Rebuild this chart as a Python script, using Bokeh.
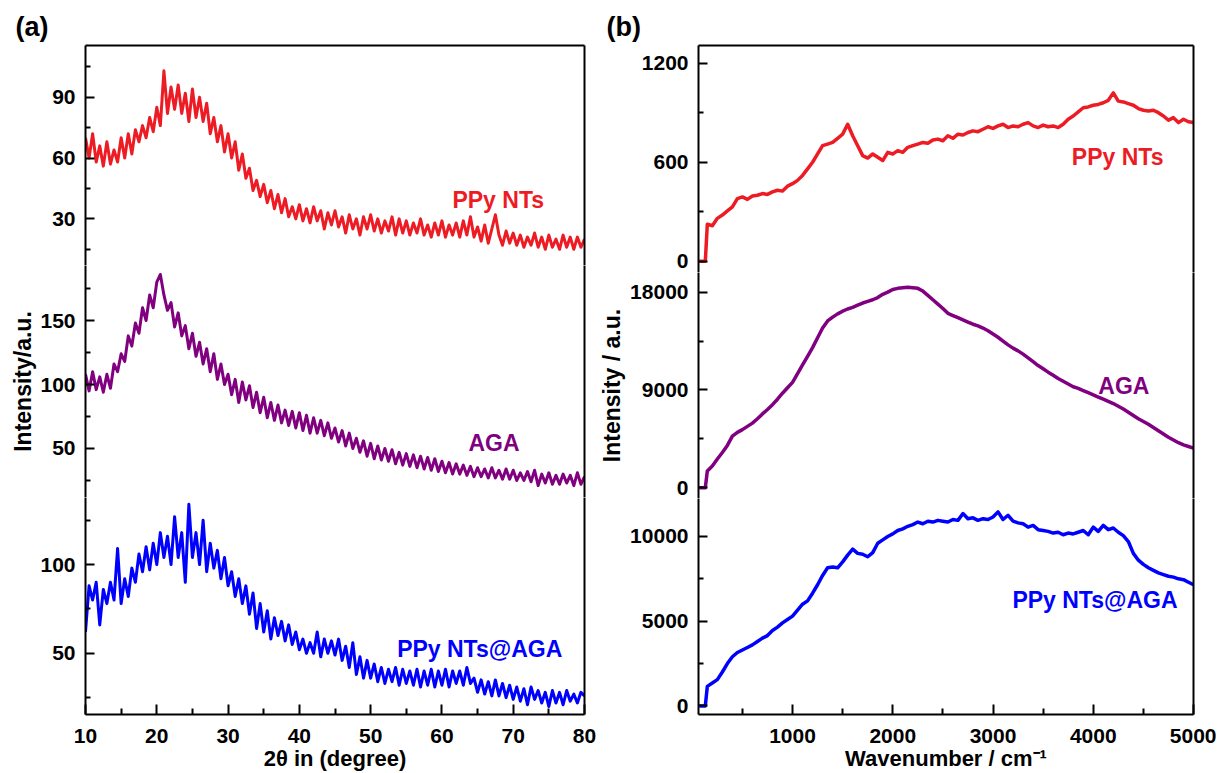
from bokeh.plotting import figure
from bokeh.models import Range1d, LinearAxis, FixedTicker, Label, Title
from bokeh.layouts import row, column
from bokeh.embed import file_html
from bokeh.resources import INLINE

# ---------------- (a) XRD data: 2theta grid 10..80 step 0.5 ----------------
two_theta = [10 + 0.5 * i for i in range(141)]

xrd_ppy_nts = [
    70, 60, 72, 58, 66, 56, 68, 57, 64, 58,
    70, 60, 72, 62, 74, 68, 76, 70, 80, 73,
    85, 76, 103, 82, 95, 84, 96, 82, 92, 78,
    94, 80, 90, 78, 87, 72, 80, 68, 76, 63,
    72, 60, 68, 54, 62, 50, 55, 44, 49, 41,
    47, 38, 44, 35, 42, 33, 40, 31, 36, 30,
    37, 29, 35, 28, 36, 29, 34, 25, 33, 27,
    34, 26, 31, 23, 32, 25, 30, 22, 31, 25,
    32, 24, 30, 23, 29, 24, 31, 22, 30, 23,
    29, 22, 28, 23, 30, 22, 27, 21, 28, 22,
    29, 21, 27, 22, 28, 21, 29, 22, 31, 21,
    26, 19, 27, 18, 25, 32, 22, 17, 24, 18,
    23, 17, 22, 16, 21, 17, 23, 16, 21, 15,
    22, 16, 20, 15, 22, 16, 21, 15, 21, 16,
    20,
]

xrd_aga = [
    108, 95, 110, 96, 106, 94, 108, 97, 116, 110,
    124, 118, 138, 130, 148, 140, 160, 150, 170, 160,
    180, 186, 170, 158, 164, 145, 156, 138, 146, 128,
    140, 122, 133, 116, 128, 110, 124, 104, 116, 100,
    108, 92, 104, 86, 102, 88, 99, 82, 94, 78,
    90, 74, 86, 72, 84, 70, 80, 68, 79, 66,
    78, 64, 76, 62, 74, 62, 72, 60, 70, 58,
    66, 55, 64, 52, 62, 50, 58, 47, 56, 44,
    54, 42, 52, 41, 50, 40, 49, 38, 47, 37,
    46, 36, 45, 35, 44, 34, 43, 33, 42, 32,
    40, 31, 39, 30, 38, 30, 37, 29, 36, 28,
    35, 28, 34, 27, 35, 27, 33, 26, 34, 26,
    33, 25, 31, 25, 32, 24, 33, 21, 30, 23,
    31, 22, 29, 22, 30, 23, 29, 21, 31, 22,
    28,
]

xrd_ppy_nts_aga = [
    62, 88, 80, 90, 66, 86, 78, 90, 80, 109,
    78, 92, 82, 98, 90, 106, 96, 110, 97, 112,
    100, 118, 104, 116, 100, 127, 104, 118, 90, 134,
    104, 118, 100, 125, 96, 112, 98, 108, 92, 104,
    88, 96, 82, 92, 78, 88, 72, 84, 64, 78,
    62, 74, 58, 70, 60, 68, 57, 66, 55, 62,
    52, 58, 50, 56, 50, 62, 48, 58, 50, 57,
    49, 58, 46, 54, 42, 56, 38, 48, 36, 46,
    36, 44, 34, 42, 33, 41, 34, 42, 32, 41,
    33, 40, 32, 41, 31, 40, 32, 41, 31, 40,
    32, 41, 31, 40, 33, 40, 32, 42, 33, 36,
    28, 35, 27, 34, 26, 35, 26, 33, 25, 32,
    24, 31, 23, 30, 21, 31, 24, 29, 22, 28,
    20, 29, 22, 28, 21, 29, 23, 27, 22, 28,
    26,
]

# ---------------- (b) data: wavenumber grid ----------------
wavenumber = [70, 130] + list(range(150, 5001, 50))

raman_ppy_nts = [
    0, 0, 225, 215, 260, 280, 305, 330, 380, 390,
    375, 395, 400, 410, 405, 420, 430, 425, 455, 470,
    490, 520, 560, 600, 650, 700, 710, 720, 745, 770,
    830, 760, 700, 640, 625, 650, 630, 610, 660, 650,
    670, 660, 690, 700, 710, 720, 715, 735, 740, 730,
    760, 745, 770, 765, 780, 790, 785, 800, 815, 805,
    820, 830, 810, 820, 815, 830, 840, 820, 810, 825,
    815, 820, 810, 830, 860, 880, 905, 930, 935, 945,
    950, 960, 975, 1020, 970, 965, 955, 945, 925, 915,
    910, 915, 900, 880, 855, 870, 840, 860, 845, 840,
]

raman_aga = [
    0, 0, 1550, 2000, 2650, 3250, 3900, 4750, 5100, 5350,
    5650, 5950, 6350, 6800, 7200, 7650, 8150, 8700, 9200, 9700,
    10500, 11300, 12100, 12900, 13800, 14700, 15350, 15700, 16000, 16250,
    16450, 16600, 16800, 17000, 17150, 17300, 17500, 17800, 18000, 18250,
    18350, 18400, 18450, 18400, 18350, 18100, 17700, 17300, 16900, 16500,
    16050, 15850, 15650, 15450, 15250, 15050, 14900, 14700, 14450, 14150,
    13850, 13500, 13150, 12850, 12600, 12300, 11950, 11600, 11250, 10950,
    10640, 10350, 10050, 9800, 9550, 9300, 9150, 8950, 8750, 8550,
    8350, 8150, 7950, 7750, 7500, 7250, 6950, 6650, 6350, 6100,
    5850, 5550, 5250, 4950, 4650, 4400, 4150, 3950, 3800, 3650,
]

raman_ppy_nts_aga = [
    0, 0, 1150, 1350, 1550, 2000, 2500, 2900, 3150, 3300,
    3450, 3600, 3800, 4000, 4150, 4450, 4650, 4900, 5100, 5300,
    5650, 6000, 6200, 6650, 7150, 7700, 8150, 8200, 8150, 8500,
    8900, 9250, 9000, 8950, 8800, 9050, 9600, 9800, 10000, 10150,
    10350, 10450, 10600, 10700, 10850, 10750, 10900, 10850, 10950, 10900,
    10850, 11000, 10950, 11350, 11050, 11100, 10950, 11050, 11000, 11150,
    11450, 11000, 11250, 10900, 10800, 10750, 10550, 10650, 10400, 10350,
    10300, 10200, 10250, 10100, 10200, 10150, 10250, 10350, 10100, 10550,
    10300, 10650, 10400, 10500, 10250, 10050, 9700, 9000, 8600, 8350,
    8150, 8000, 7850, 7750, 7650, 7600, 7500, 7450, 7300, 7150,
]

# tick labels
xrd_x_ticks = [10, 20, 30, 40, 50, 60, 70, 80]
xrd_x_minor = [15, 25, 35, 45, 55, 65, 75]
xrd_y_ticks = [[30, 60, 90], [50, 100, 150], [50, 100]]
xrd_y_minor = [[15, 45, 75, 105], [25, 75, 125, 175], [25, 75, 125]]
wn_x_ticks = [1000, 2000, 3000, 4000, 5000]
wn_x_minor = [500, 1500, 2500, 3500, 4500]
wn_y_ticks = [[0, 600, 1200], [0, 9000, 18000], [0, 5000, 10000]]
wn_y_minor = [[300, 900], [4500, 13500], [2500, 7500]]

series_names = ["PPy NTs", "AGA", "PPy NTs@AGA"]

FONT = "Liberation Sans"
RED = "#ED1C24"
PURPLE = "#800080"
BLUE = "#0000FF"
COLORS = [RED, PURPLE, BLUE]


def style_axis(ax, tick_in, minor_in, standoff):
    ax.axis_line_width = 2
    ax.axis_line_color = "black"
    ax.major_tick_line_width = 2
    ax.minor_tick_line_width = 2
    ax.major_tick_line_color = "black"
    ax.minor_tick_line_color = "black"
    ax.major_tick_in = tick_in
    ax.major_tick_out = 0
    ax.minor_tick_in = minor_in
    ax.minor_tick_out = 0
    ax.major_label_standoff = standoff
    ax.major_label_text_font = FONT
    ax.major_label_text_font_style = "bold"
    ax.major_label_text_font_size = "21px"
    ax.major_label_text_color = "black"


def border_axis():
    ax = LinearAxis(ticker=FixedTicker(ticks=[], minor_ticks=[]))
    ax.axis_line_width = 2
    ax.axis_line_color = "black"
    ax.major_tick_line_color = None
    ax.minor_tick_line_color = None
    ax.major_tick_in = 0
    ax.major_tick_out = 0
    ax.minor_tick_in = 0
    ax.minor_tick_out = 0
    ax.major_label_standoff = 0
    ax.major_label_text_font_size = "0px"
    return ax


def subplot(width, height, xr, yr, yticks, yminor, mbl, mbr, mbt, mbb):
    p = figure(width=width, height=height, x_range=xr, y_range=Range1d(*yr),
               output_backend="svg", toolbar_location=None,
               x_axis_location=None, y_axis_location=None,
               min_border=0, min_border_left=mbl, min_border_right=mbr,
               min_border_top=mbt, min_border_bottom=mbb)
    p.outline_line_color = None
    p.xgrid.visible = False
    p.ygrid.visible = False
    p.background_fill_color = "white"
    p.border_fill_color = "white"
    yax = LinearAxis(ticker=FixedTicker(ticks=yticks, minor_ticks=yminor))
    style_axis(yax, 9, 5, 10)
    p.add_layout(yax, "left")
    p.add_layout(border_axis(), "right")
    return p, yax


def add_series_label(p, text, x, y, color):
    p.add_layout(Label(x=x, y=y, text=text, text_color=color, text_font=FONT,
                       text_font_style="bold", text_font_size="23px",
                       text_align="center", text_baseline="alphabetic"))


def build_panel(letter, letter_offset, width, mbl, mbr, heights, xr, yranges,
                yticks, yminor, xs, ys_list, lw, label_pos, ylabel, ylabel_standoff,
                xticks, xminor, xlabel):
    figs = []
    for i in range(3):
        mbt = 45 if i == 0 else 0
        mbb = 57 if i == 2 else 0
        p, yax = subplot(width, heights[i], xr, yranges[i], yticks[i], yminor[i],
                         mbl, mbr, mbt, mbb)
        if i == 0:
            p.add_layout(border_axis(), "above")
            p.add_layout(Title(text=letter, align="left", offset=letter_offset,
                               text_font=FONT, text_font_style="bold",
                               text_font_size="27px", text_color="black",
                               standoff=7), "above")
        if i == 1:
            yax.axis_label = ylabel
            yax.axis_label_text_font = FONT
            yax.axis_label_text_font_style = "bold"
            yax.axis_label_text_font_size = "23px"
            yax.axis_label_text_color = "black"
            yax.axis_label_standoff = ylabel_standoff
        if i == 2:
            xax = LinearAxis(ticker=FixedTicker(ticks=xticks, minor_ticks=xminor),
                             axis_label=xlabel)
            style_axis(xax, 10, 6, 14)
            xax.axis_label_text_font = FONT
            xax.axis_label_text_font_style = "bold"
            xax.axis_label_text_font_size = "22px"
            xax.axis_label_text_color = "black"
            xax.axis_label_standoff = 0
            p.add_layout(xax, "below")
        p.line(xs, ys_list[i], line_color=COLORS[i], line_width=lw, line_join="round")
        lx, ly = label_pos[i]
        add_series_label(p, series_names[i], lx, ly, COLORS[i])
        figs.append(p)
    return column(*figs)


panel_a = build_panel(
    "(a)", -70, 596, 85, 12, [265, 232, 276],
    Range1d(10, 80),
    [(7.0, 115.5), (11.7, 193.0), (15.5, 137.8)],
    xrd_y_ticks, xrd_y_minor,
    two_theta, [xrd_ppy_nts, xrd_aga, xrd_ppy_nts_aga], 3,
    [(67.9, 39.3), (67.3, 53.9), (65.3, 52.4)],
    "Intensity/a.u.", 1,
    xrd_x_ticks, xrd_x_minor, "2\u03b8 in (degree)")

panel_b = build_panel(
    "(b)", -92, 620, 100, 23, [272, 226, 275],
    Range1d(62, 5000),
    [(-68, 1307), (-984, 19808), (-508, 12240)],
    wn_y_ticks, wn_y_minor,
    wavenumber, [raman_ppy_nts, raman_aga, raman_ppy_nts_aga], 3.5,
    [(4243, 634), (4305, 9412), (4017, 6275)],
    "Intensity / a.u.", 2,
    wn_x_ticks, wn_x_minor, "Wavenumber / cm\u207b\u00b9")

layout = row(panel_a, panel_b)

open("out.html", "w").write(file_html(layout, INLINE, title="XRD and Raman"))
